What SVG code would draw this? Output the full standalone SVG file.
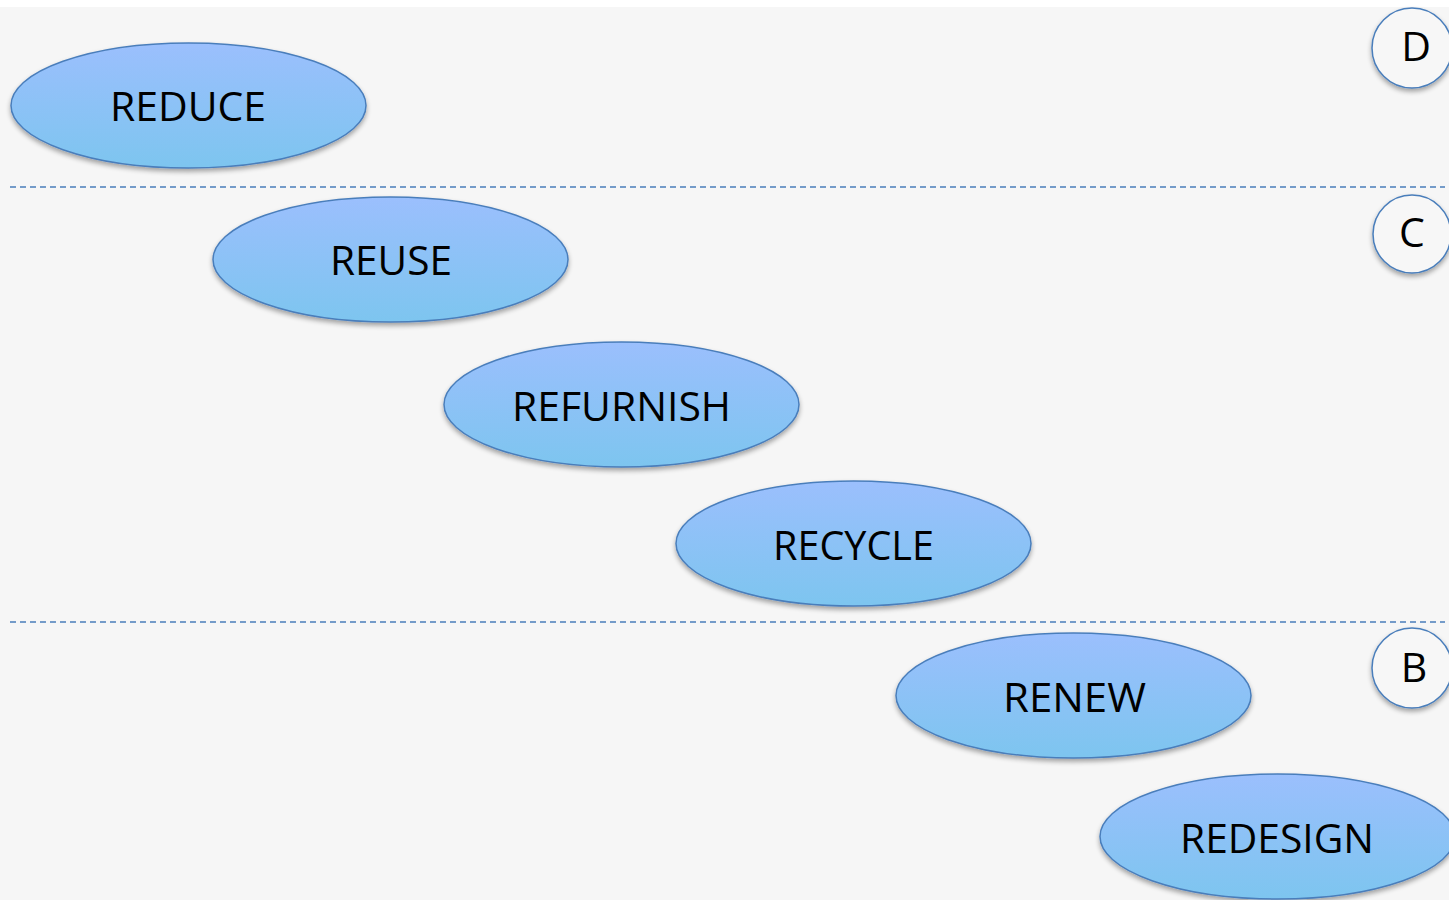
<svg xmlns="http://www.w3.org/2000/svg" width="1449" height="900" viewBox="0 0 1449 900">
  <defs>
    <linearGradient id="fillBlue" x1="0" y1="0" x2="0" y2="1">
      <stop offset="0" stop-color="#9bbffd"/>
      <stop offset="1" stop-color="#7dc5ef"/>
    </linearGradient>
    <filter id="shadow" x="-10%" y="-10%" width="120%" height="130%">
      <feGaussianBlur in="SourceAlpha" stdDeviation="2.5"/>
      <feOffset dx="0" dy="3" result="b"/>
      <feComponentTransfer><feFuncA type="linear" slope="0.35"/></feComponentTransfer>
      <feMerge><feMergeNode/><feMergeNode in="SourceGraphic"/></feMerge>
    </filter>
    <style>
      .node { fill: url(#fillBlue); stroke: #4a7ebb; stroke-width: 1.5; filter: url(#shadow); }
      .tier { fill: #f7f7f7; stroke: #4a7ebb; stroke-width: 1.5; filter: url(#shadow); }
      .label { font-family: "Open Sans", "Liberation Sans", sans-serif; font-size: 41px; fill: #000; text-anchor: middle; }
      .divider { stroke: #4a7ebb; stroke-width: 1.6; stroke-dasharray: 6 4; fill: none; }
    </style>
  </defs>

  <rect x="0" y="0" width="1449" height="900" fill="#ffffff"/>
  <rect x="0" y="7" width="1449" height="893" fill="#f6f6f6"/>

  <g id="dividers">
    <line class="divider" x1="10" y1="187" x2="1445" y2="187"/>
    <line class="divider" x1="10" y1="622" x2="1445" y2="622"/>
  </g>

  <g id="tier-d">
    <circle class="tier" cx="1412" cy="48" r="40"/>
    <text class="label" x="1416" y="61">D</text>
  </g>
  <g id="tier-c">
    <circle class="tier" cx="1412" cy="234" r="39"/>
    <text class="label" x="1412" y="247">C</text>
  </g>
  <g id="tier-b">
    <circle class="tier" cx="1412" cy="668" r="40"/>
    <text class="label" x="1414" y="682">B</text>
  </g>

  <g id="reduce">
    <ellipse class="node" cx="188.5" cy="105.5" rx="177.5" ry="62.5"/>
    <text class="label" x="188" y="121" textLength="156" lengthAdjust="spacingAndGlyphs">REDUCE</text>
  </g>
  <g id="reuse">
    <ellipse class="node" cx="390.5" cy="259.5" rx="177.5" ry="62.5"/>
    <text class="label" x="391" y="275" textLength="122" lengthAdjust="spacingAndGlyphs">REUSE</text>
  </g>
  <g id="refurnish">
    <ellipse class="node" cx="621.5" cy="404.5" rx="177.5" ry="62.5"/>
    <text class="label" x="621.5" y="421" textLength="219" lengthAdjust="spacingAndGlyphs">REFURNISH</text>
  </g>
  <g id="recycle">
    <ellipse class="node" cx="853.5" cy="543.5" rx="177.5" ry="62.5"/>
    <text class="label" x="853.5" y="560" textLength="161" lengthAdjust="spacingAndGlyphs">RECYCLE</text>
  </g>
  <g id="renew">
    <ellipse class="node" cx="1073.5" cy="695.5" rx="177.5" ry="62.5"/>
    <text class="label" x="1074.5" y="712" textLength="143" lengthAdjust="spacingAndGlyphs">RENEW</text>
  </g>
  <g id="redesign">
    <ellipse class="node" cx="1277.5" cy="836.5" rx="177.5" ry="62.5"/>
    <text class="label" x="1277" y="853" textLength="194" lengthAdjust="spacingAndGlyphs">REDESIGN</text>
  </g>
</svg>
